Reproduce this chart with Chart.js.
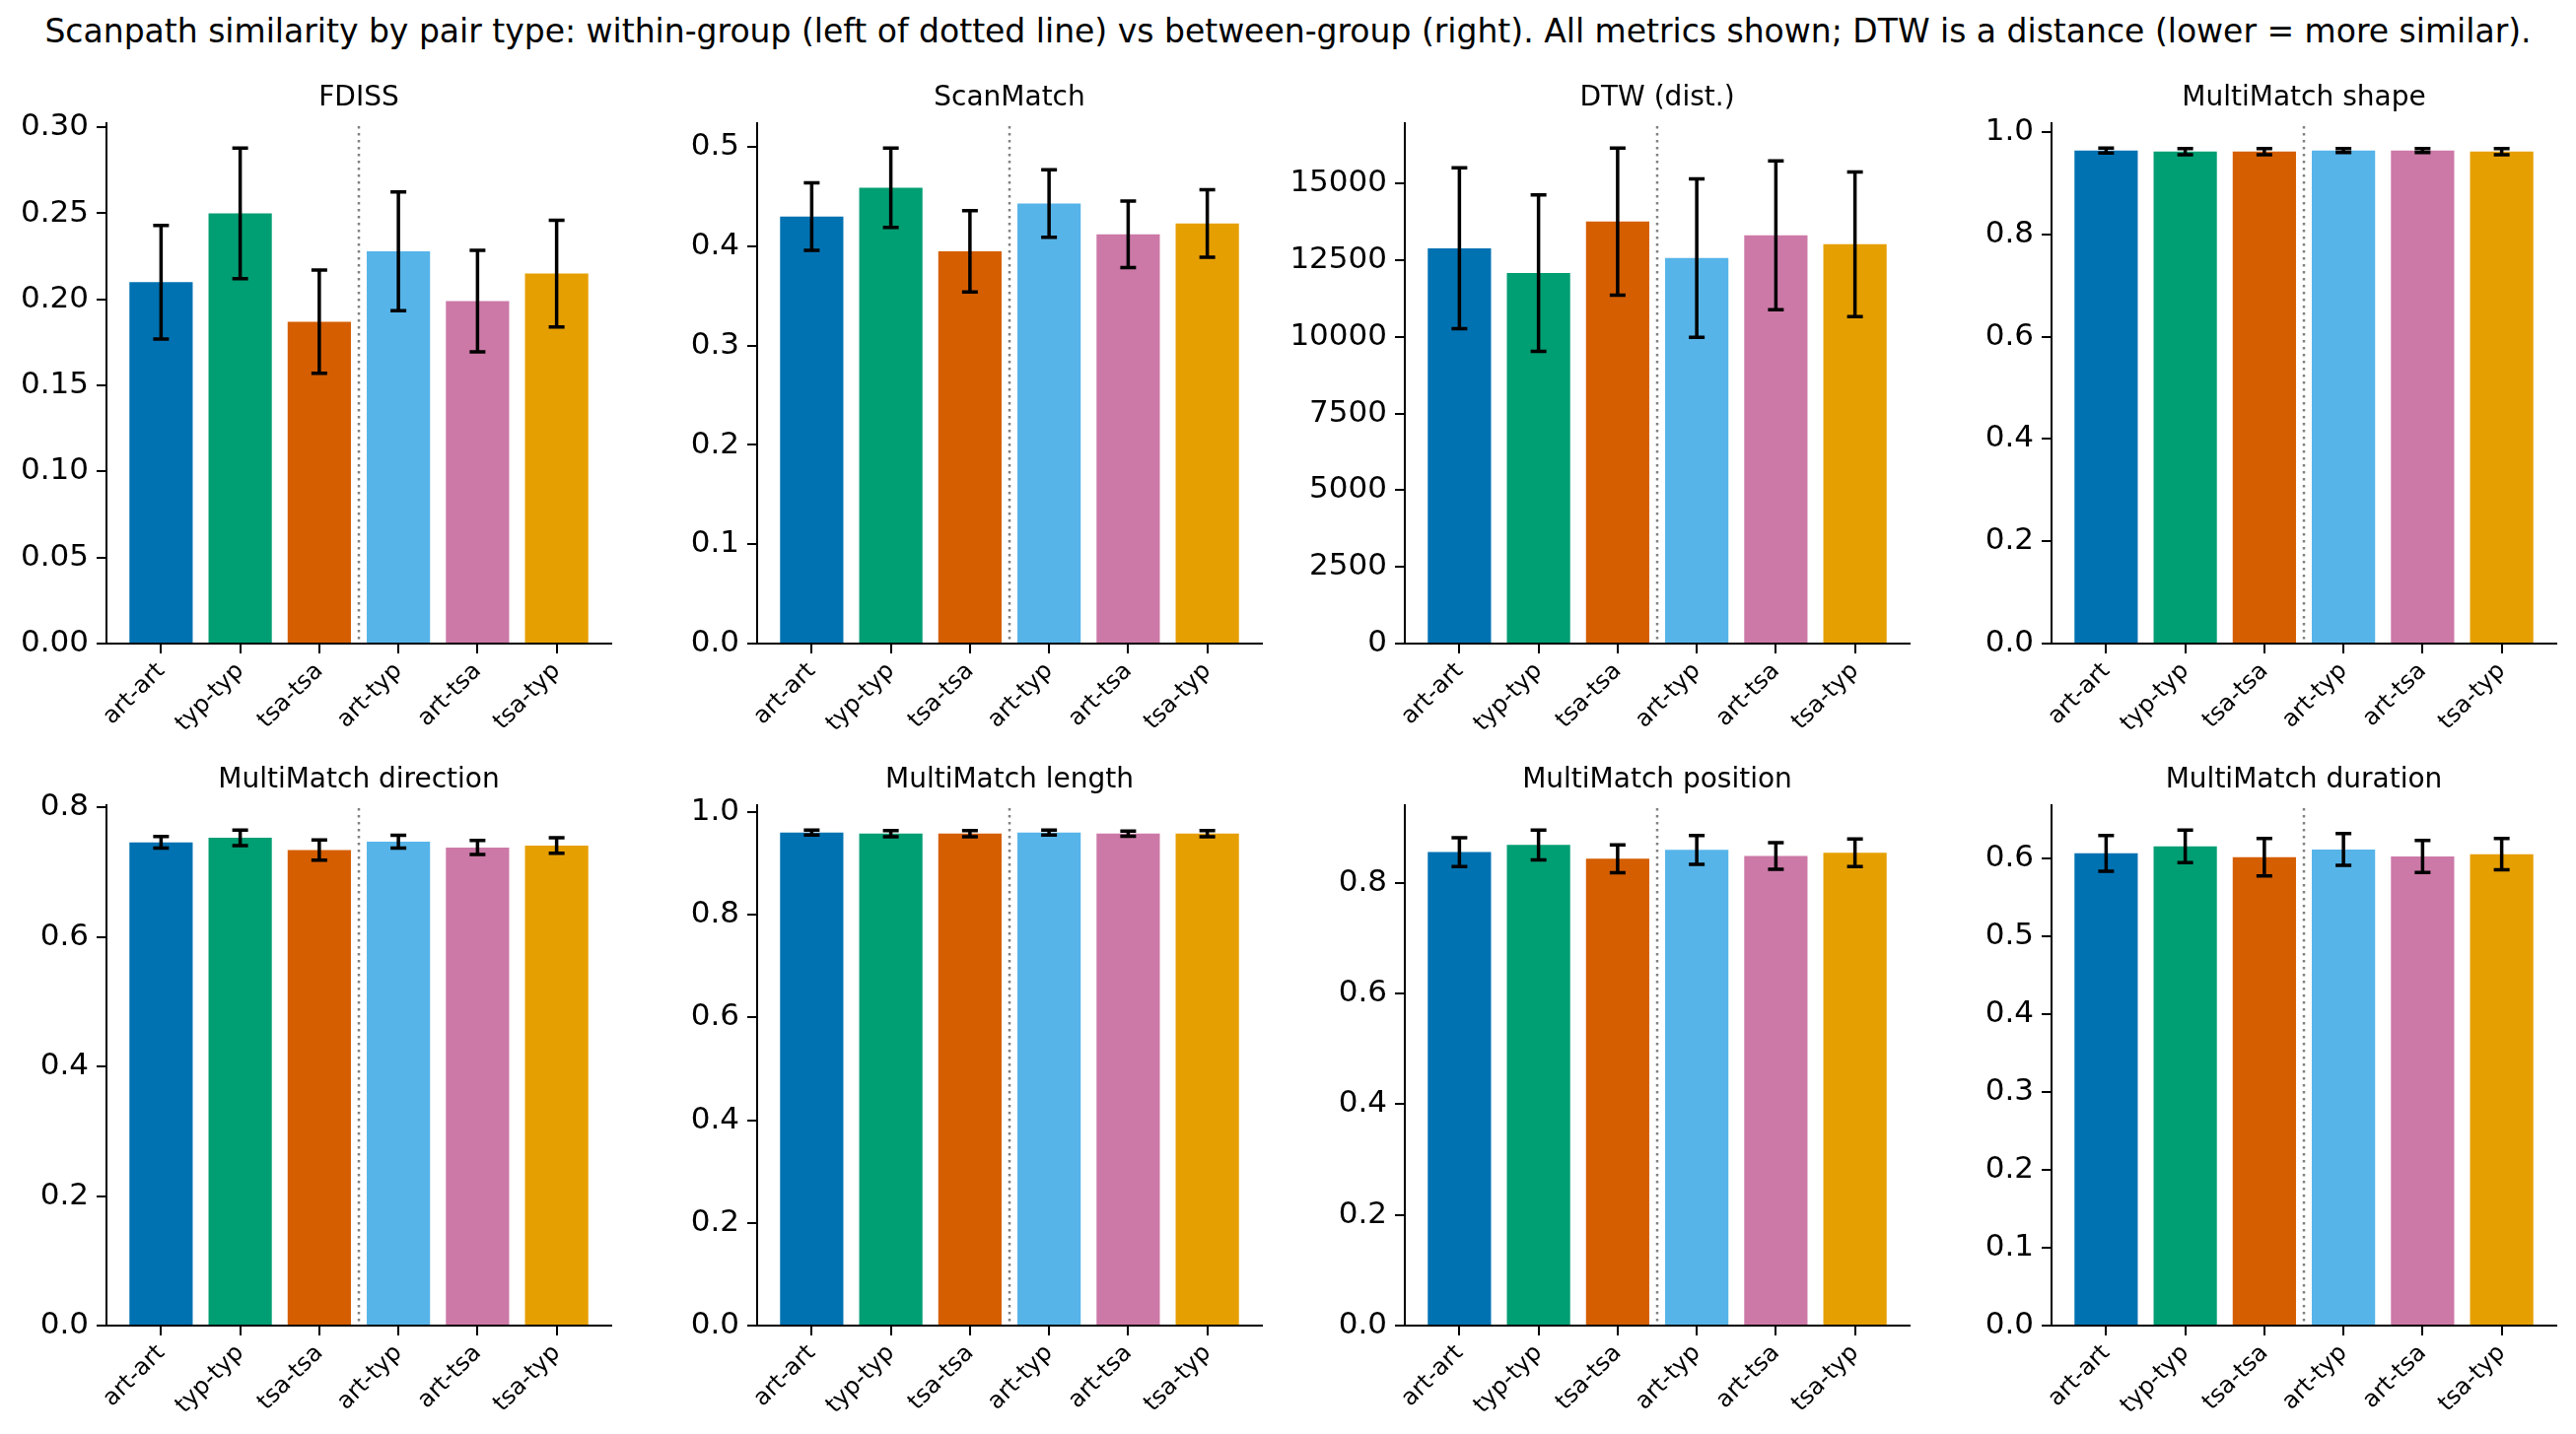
<!DOCTYPE html>
<html>
<head>
<meta charset="utf-8">
<script src="https://cdn.jsdelivr.net/npm/chart.js@4.4.1/dist/chart.umd.min.js"></script>
<style>
  body { margin: 0; background: #fff; width: 2613px; height: 1455px; position: relative; overflow: hidden; font-family: "DejaVu Sans", sans-serif; }
  #suptitle { position: absolute; left: 0; top: 12px; width: 2613px; text-align: center; font-size: 33px; color: #000; white-space: nowrap; }
  canvas { position: absolute; }
</style>
</head>
<body>
<div id="suptitle">Scanpath similarity by pair type: within-group (left of dotted line) vs between-group (right). All metrics shown; DTW is a distance (lower = more similar).</div>
<script>
// data
const pairTypes = ['art-art', 'typ-typ', 'tsa-tsa', 'art-typ', 'art-tsa', 'tsa-typ'];
const barColors = ['#0072B2', '#009E73', '#D55E00', '#56B4E9', '#CC79A7', '#E69F00'];

const fdissMean = [0.210, 0.250, 0.187, 0.228, 0.199, 0.215];
const fdissErr  = [0.033, 0.038, 0.030, 0.0345, 0.0295, 0.031];
const fdissTicks = ['0.00', '0.05', '0.10', '0.15', '0.20', '0.25', '0.30'];

const scanMean = [0.430, 0.459, 0.395, 0.443, 0.412, 0.423];
const scanErr  = [0.034, 0.040, 0.041, 0.034, 0.0335, 0.034];
const scanTicks = ['0.0', '0.1', '0.2', '0.3', '0.4', '0.5'];

const dtwMean = [12890, 12080, 13760, 12570, 13310, 13020];
const dtwErr  = [2620, 2550, 2400, 2585, 2425, 2360];
const dtwTicks = ['0', '2500', '5000', '7500', '10000', '12500', '15000'];

const shapeMean = [0.964, 0.962, 0.962, 0.964, 0.964, 0.962];
const shapeErr  = [0.005, 0.006, 0.006, 0.004, 0.004, 0.006];
const shapeTicks = ['0.0', '0.2', '0.4', '0.6', '0.8', '1.0'];

const dirMean = [0.746, 0.753, 0.734, 0.747, 0.738, 0.741];
const dirErr  = [0.009, 0.012, 0.0155, 0.010, 0.011, 0.012];
const dirTicks = ['0.0', '0.2', '0.4', '0.6', '0.8'];

const lenMean = [0.960, 0.958, 0.958, 0.960, 0.958, 0.958];
const lenErr  = [0.005, 0.006, 0.006, 0.005, 0.005, 0.006];
const lenTicks = ['0.0', '0.2', '0.4', '0.6', '0.8', '1.0'];

const posMean = [0.855, 0.868, 0.843, 0.859, 0.848, 0.854];
const posErr  = [0.026, 0.027, 0.025, 0.026, 0.024, 0.025];
const posTicks = ['0.0', '0.2', '0.4', '0.6', '0.8'];

const durMean = [0.606, 0.615, 0.601, 0.611, 0.602, 0.605];
const durErr  = [0.023, 0.021, 0.024, 0.0205, 0.0205, 0.020];
const durTicks = ['0.0', '0.1', '0.2', '0.3', '0.4', '0.5', '0.6'];

const panels = [
  { title: 'FDISS', mean: fdissMean, err: fdissErr, ticks: fdissTicks },
  { title: 'ScanMatch', mean: scanMean, err: scanErr, ticks: scanTicks },
  { title: 'DTW (dist.)', mean: dtwMean, err: dtwErr, ticks: dtwTicks },
  { title: 'MultiMatch shape', mean: shapeMean, err: shapeErr, ticks: shapeTicks },
  { title: 'MultiMatch direction', mean: dirMean, err: dirErr, ticks: dirTicks },
  { title: 'MultiMatch length', mean: lenMean, err: lenErr, ticks: lenTicks },
  { title: 'MultiMatch position', mean: posMean, err: posErr, ticks: posTicks },
  { title: 'MultiMatch duration', mean: durMean, err: durErr, ticks: durTicks },
];

// layout of the axes boxes (page pixels)
const colLeft = [108, 768, 1425, 2081];
const rowTop = [125, 817];
const axW = 512, axH = 528;
const yAxisW = 140, xAxisH = 125, padTop = 60, padRight = 20;
const FONT = '"DejaVu Sans", sans-serif';

const errorBars = {
  id: 'errorBars',
  afterDatasetsDraw(chart) {
    const ds = chart.data.datasets[0];
    const xs = chart.scales.x, ys = chart.scales.y;
    const ctx = chart.ctx;
    ctx.save();
    ctx.strokeStyle = '#000';
    ctx.lineWidth = 3.5;
    ds.data.forEach((p, i) => {
      const x = xs.getPixelForValue(p.x);
      const y1 = ys.getPixelForValue(p.y + ds.errors[i]);
      const y2 = ys.getPixelForValue(p.y - ds.errors[i]);
      ctx.beginPath();
      ctx.moveTo(x, y1); ctx.lineTo(x, y2);
      ctx.moveTo(x - 8, y1); ctx.lineTo(x + 8, y1);
      ctx.moveTo(x - 8, y2); ctx.lineTo(x + 8, y2);
      ctx.stroke();
    });
    ctx.restore();
  }
};

const divider = {
  id: 'divider',
  beforeDatasetsDraw(chart) {
    const a = chart.chartArea, ctx = chart.ctx;
    const x = chart.scales.x.getPixelForValue(2.5);
    ctx.save();
    ctx.strokeStyle = '#808080';
    ctx.lineWidth = 2.5;
    ctx.setLineDash([2.5, 4.5]);
    ctx.beginPath();
    ctx.moveTo(x, a.top + 3); ctx.lineTo(x, a.bottom);
    ctx.stroke();
    ctx.restore();
  }
};

const panelTitle = {
  id: 'panelTitle',
  afterDraw(chart, args, opts) {
    const a = chart.chartArea, ctx = chart.ctx;
    ctx.save();
    ctx.fillStyle = '#000';
    ctx.font = '28px ' + FONT;
    ctx.textAlign = 'center';
    ctx.textBaseline = 'middle';
    ctx.fillText(opts.text, (a.left + a.right) / 2, a.top - 25);
    ctx.restore();
  }
};

panels.forEach((p, k) => {
  const col = k % 4, row = Math.floor(k / 4);
  const cv = document.createElement('canvas');
  cv.width = yAxisW + axW + padRight;
  cv.height = padTop + axH + xAxisH;
  cv.style.left = (colLeft[col] - yAxisW) + 'px';
  cv.style.top = (rowTop[row] - padTop) + 'px';
  document.body.appendChild(cv);

  const tickVals = p.ticks.map(Number);
  const yMax = Math.max(...p.mean.map((m, i) => m + p.err[i])) * 1.05;
  const axisLine = { display: true, color: '#000', width: 2 };
  const gridOpts = { display: true, drawOnChartArea: false, drawTicks: true, tickLength: 10, tickColor: '#000', tickWidth: 2, color: '#000', lineWidth: 2, offset: false };

  new Chart(cv, {
    type: 'bar',
    data: {
      datasets: [{
        data: p.mean.map((v, i) => ({ x: i, y: v })),
        errors: p.err,
        backgroundColor: barColors,
        borderWidth: 0,
        barPercentage: 0.8,
        categoryPercentage: 1.0
      }]
    },
    options: {
      responsive: false,
      animation: false,
      layout: { padding: { top: padTop, right: padRight, left: 0, bottom: 0 } },
      plugins: {
        legend: { display: false },
        tooltip: { enabled: false },
        panelTitle: { text: p.title }
      },
      scales: {
        x: {
          type: 'linear', min: -0.69, max: 5.69, offset: false,
          afterBuildTicks: s => { s.ticks = pairTypes.map((_, i) => ({ value: i })); },
          afterFit: s => { s.height = xAxisH; },
          ticks: {
            callback: v => pairTypes[v],
            minRotation: 45, maxRotation: 45,
            font: { size: 24, family: FONT }, color: '#000', padding: 4
          },
          grid: gridOpts,
          border: axisLine
        },
        y: {
          min: 0, max: yMax,
          afterBuildTicks: s => { s.ticks = tickVals.map(v => ({ value: v })); },
          afterFit: s => { s.width = yAxisW; },
          ticks: {
            callback: (v, i) => p.ticks[i],
            font: { size: 31, family: FONT }, color: '#000', padding: 8
          },
          grid: gridOpts,
          border: axisLine
        }
      }
    },
    plugins: [divider, errorBars, panelTitle]
  });
});
</script>
</body>
</html>
